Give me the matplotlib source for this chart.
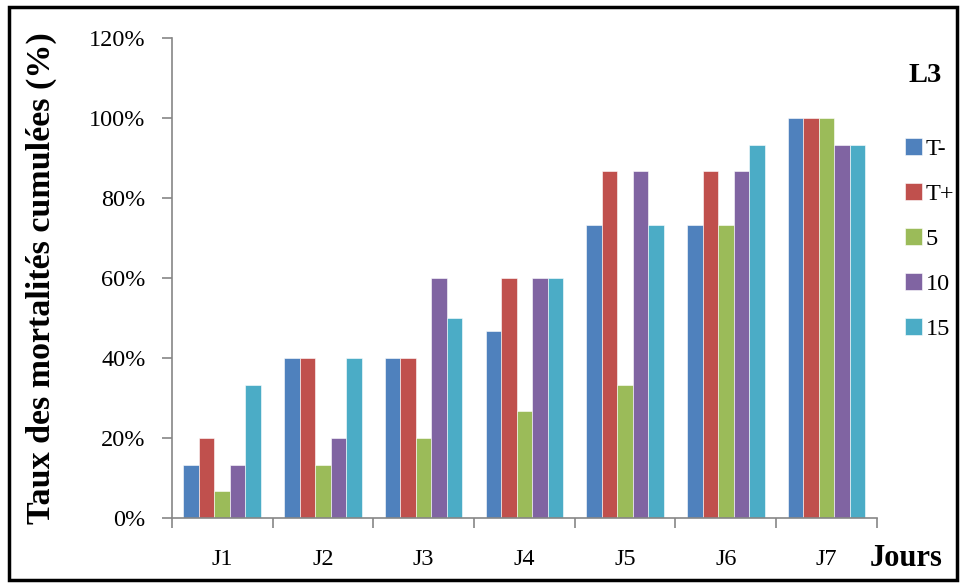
import numpy as np
import matplotlib.pyplot as plt
from matplotlib.patches import Rectangle
from matplotlib.ticker import FixedLocator, PercentFormatter

# ================= DATA =================
jours = ["J1", "J2", "J3", "J4", "J5", "J6", "J7"]
series = ["T-", "T+", "5", "10", "15"]
t_moins = [13.33, 40, 40, 46.67, 73.33, 73.33, 100]
t_plus = [20, 40, 40, 60, 86.67, 86.67, 100]
dose_5 = [6.67, 13.33, 20, 26.67, 33.33, 73.33, 100]
dose_10 = [13.33, 20, 60, 60, 86.67, 86.67, 93.33]
dose_15 = [33.33, 40, 50, 60, 73.33, 93.33, 93.33]
colors = ["#4F81BD", "#C0504D", "#9BBB59", "#8064A2", "#4BACC6"]

plt.rcParams["font.family"] = ["Liberation Serif", "DejaVu Serif"]

# ================= PLOT =================
fig = plt.figure(figsize=(9.6, 5.83), dpi=100)
ax = fig.add_axes([0.179, 0.1115, 0.7345, 0.8233])

x = np.arange(len(jours))
w = 0.154
values = [t_moins, t_plus, dose_5, dose_10, dose_15]
for i, (name, vals) in enumerate(zip(series, values)):
    ax.bar(x + (i - 2) * w, vals, width=w, color=colors[i], label=name,
           edgecolor="white", linewidth=0.4)

ax.set_xlim(-0.5, len(jours) - 0.5)
ax.set_ylim(0, 120)
ax.set_yticks(np.arange(0, 121, 20))
ax.yaxis.set_major_formatter(PercentFormatter(decimals=0))

# category ticks at boundaries, labels at centers
ax.xaxis.set_major_locator(FixedLocator(np.arange(-0.5, len(jours), 1)))
ax.xaxis.set_minor_locator(FixedLocator(x))
ax.set_xticklabels([])
ax.set_xticklabels(jours, minor=True)
ax.tick_params(axis="x", which="major", length=7, color="#868686", width=1.2)
ax.tick_params(axis="x", which="minor", length=0, pad=22, labelsize=17.5)
ax.tick_params(axis="y", length=7, color="#868686", width=1.2, pad=12, labelsize=17.5)

for side in ["top", "right"]:
    ax.spines[side].set_visible(False)
for side in ["left", "bottom"]:
    ax.spines[side].set_color("#868686")
    ax.spines[side].set_linewidth(1.2)

ax.set_ylabel("Taux des mortalités cumulées (%)", fontsize=24.5,
              fontweight="bold", labelpad=23)
fig.text(0.982, 0.03, "Jours", fontsize=22, fontweight="bold",
         ha="right", va="baseline")

leg = ax.legend(loc="upper left", bbox_to_anchor=(1.0085, 0.838), frameon=False,
                fontsize=17.5, handlelength=0.7, handleheight=0.7,
                handletextpad=0.15, labelspacing=0.95, borderaxespad=0.5)
fig.text(0.964, 0.871, "L3", fontsize=20.5, fontweight="bold", ha="center", va="center")

# figure border
fig.patches.append(Rectangle((0.009, 0.006), 0.988, 0.982, transform=fig.transFigure,
                             fill=False, edgecolor="black", linewidth=2.5))

plt.savefig("out.png", dpi=100)
plt.close()
